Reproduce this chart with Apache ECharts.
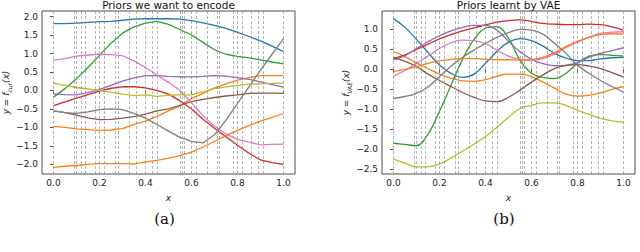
<!DOCTYPE html>
<html><head><meta charset="utf-8">
<script src="https://cdn.jsdelivr.net/npm/echarts@6/dist/echarts.min.js"></script>
<style>html,body{margin:0;padding:0;background:#fff}#c{width:640px;height:252px}</style>
</head><body><div id="c"></div>
<script>
// shared x sampling grid (both panels)
const xGrid = [0,0.05,0.1,0.15,0.2,0.25,0.3,0.35,0.4,0.45,0.5,0.55,0.6,0.65,0.7,0.75,0.8,0.85,0.9,0.95,1.0];
// inducing-point x positions (vertical dashed lines)
const inducingX = [0.0,0.09,0.10,0.115,0.145,0.18,0.20,0.22,0.27,0.285,0.33,0.36,0.40,0.43,0.45,0.545,0.555,0.575,0.60,0.62,0.665,0.71,0.72,0.78,0.80,0.82,0.86,0.89,0.91,1.0];
const xTicks = [0,0.2,0.4,0.6,0.8,1.0];
const yTicksA = [-2,-1.5,-1,-0.5,0,0.5,1,1.5,2];
const yTicksB = [-2.5,-2,-1.5,-1,-0.5,0,0.5,1];

// (a) priors we want to encode
const aBlue   = [1.81,1.81,1.82,1.84,1.86,1.87,1.90,1.93,1.94,1.94,1.94,1.93,1.89,1.83,1.76,1.68,1.57,1.46,1.34,1.20,1.05];
const aGreen  = [-0.18,0.05,0.32,0.62,0.95,1.28,1.55,1.72,1.82,1.87,1.79,1.65,1.50,1.30,1.10,0.98,0.92,0.88,0.83,0.77,0.72];
const aPink   = [0.82,0.86,0.93,0.96,0.98,0.97,0.94,0.80,0.62,0.42,0.22,0.0,-0.33,-0.68,-0.97,-1.18,-1.32,-1.40,-1.47,-1.46,-1.45];
const aPurple = [-0.09,-0.11,-0.12,-0.06,0.03,0.14,0.25,0.34,0.40,0.40,0.38,0.37,0.37,0.38,0.40,0.39,0.35,0.30,0.23,0.16,0.09];
const aOlive  = [0.20,0.14,0.08,0.04,0.0,-0.05,-0.10,-0.14,-0.12,-0.16,-0.13,-0.12,-0.12,-0.04,0.05,0.10,0.14,0.17,0.18,0.19,0.20];
const aRed    = [-0.41,-0.31,-0.21,-0.11,-0.02,0.06,0.10,0.10,0.07,0.0,-0.10,-0.28,-0.50,-0.78,-1.02,-1.25,-1.48,-1.70,-1.88,-1.95,-2.0];
const aBrown  = [-0.55,-0.60,-0.67,-0.74,-0.79,-0.78,-0.75,-0.71,-0.64,-0.55,-0.50,-0.40,-0.30,-0.24,-0.19,-0.15,-0.12,-0.08,-0.07,-0.07,-0.08];
const aGray   = [-0.55,-0.60,-0.62,-0.58,-0.52,-0.50,-0.52,-0.62,-0.75,-0.92,-1.10,-1.27,-1.38,-1.42,-1.20,-0.80,-0.35,0.10,0.55,0.98,1.40];
const aOrange1= [-0.97,-1.00,-1.04,-1.06,-1.08,-1.07,-1.03,-0.92,-0.83,-0.70,-0.55,-0.42,-0.22,-0.08,0.07,0.18,0.28,0.35,0.40,0.40,0.40];
const aOrange2= [-2.08,-2.05,-2.03,-2.0,-1.98,-1.98,-1.98,-1.99,-1.93,-1.89,-1.83,-1.76,-1.67,-1.53,-1.38,-1.22,-1.08,-0.95,-0.83,-0.73,-0.63];

// (b) priors learnt by VAE
const bBlue   = [1.27,1.05,0.75,0.42,0.11,-0.10,-0.20,-0.12,0.15,0.45,0.68,0.77,0.72,0.58,0.40,0.28,0.22,0.22,0.26,0.29,0.30];
const bRed    = [0.27,0.36,0.50,0.63,0.76,0.87,0.96,1.04,1.11,1.18,1.22,1.24,1.20,1.15,1.13,1.12,1.12,1.13,1.12,1.06,0.98];
const bPurple = [0.23,0.34,0.52,0.69,0.84,0.96,1.05,1.10,1.10,0.98,0.70,0.44,0.25,0.14,0.09,0.10,0.17,0.30,0.40,0.47,0.54];
const bGray   = [-0.73,-0.68,-0.60,-0.44,-0.18,0.08,0.30,0.48,0.65,0.80,0.92,1.00,0.98,0.88,0.65,0.40,0.10,-0.10,-0.28,-0.43,-0.57];
const bPink   = [-0.17,-0.03,0.15,0.33,0.52,0.67,0.73,0.72,0.64,0.48,0.33,0.25,0.23,0.27,0.38,0.55,0.68,0.80,0.90,0.93,0.94];
const bOrange1= [0.44,0.32,0.16,0.02,-0.12,-0.22,-0.29,-0.30,-0.26,-0.17,-0.12,-0.12,-0.18,-0.32,-0.47,-0.62,-0.67,-0.65,-0.59,-0.50,-0.43];
const bOrange2= [-0.06,0.0,0.07,0.15,0.21,0.25,0.27,0.27,0.25,0.24,0.24,0.23,0.24,0.30,0.42,0.57,0.70,0.80,0.87,0.89,0.88];
const bGreen  = [-1.85,-1.88,-1.91,-1.62,-1.05,-0.40,0.25,0.75,1.03,1.07,0.78,0.23,-0.10,-0.20,-0.23,-0.10,0.15,0.33,0.37,0.35,0.33];
const bBrown  = [0.30,0.20,0.07,-0.12,-0.28,-0.43,-0.58,-0.70,-0.79,-0.81,-0.70,-0.52,-0.32,-0.14,0.02,0.10,0.12,0.08,0.02,-0.08,-0.19];
const bOlive  = [-2.25,-2.35,-2.44,-2.44,-2.37,-2.22,-2.05,-1.87,-1.68,-1.45,-1.20,-0.98,-0.90,-0.84,-0.84,-0.90,-1.02,-1.13,-1.23,-1.29,-1.33];

const C = {blue:'#1f77b4',orange:'#ff7f0e',green:'#2ca02c',red:'#d62728',purple:'#9467bd',brown:'#8c564b',pink:'#e377c2',gray:'#7f7f7f',olive:'#bcbd22'};

function mk(vals, color, idx, smooth){
  return {type:'line', xAxisIndex:idx, yAxisIndex:idx, data: xGrid.map((x,i)=>[x, vals[i]]),
    showSymbol:false, symbol:'none', smooth: smooth, lineStyle:{color:color, width:1.3}, silent:true, z:3};
}
function vlines(idx){
  return {type:'line', xAxisIndex:idx, yAxisIndex:idx, data:[], silent:true,
    markLine:{symbol:'none', silent:true, label:{show:false},
      lineStyle:{color:'#888', width:0.8, type:[3,2], opacity:0.8},
      data: inducingX.map(v=>({xAxis:v}))}};
}
const fmt = v => v.toFixed(1).replace('-', '\u2212');
const tickFont = {fontSize:9, color:'#222', fontFamily:'DejaVu Sans'};
function xAx(idx){
  return {type:'value', gridIndex:idx, min:-0.05, max:1.05,
    name:'x', nameLocation:'middle', nameGap:19, nameTextStyle:{fontSize:9, fontStyle:'italic', color:'#222', fontFamily:'DejaVu Sans'},
    axisLine:{show:false}, splitLine:{show:false},
    axisTick:{show:true, length:3.5, customValues:xTicks, lineStyle:{color:'#222', width:0.8}},
    axisLabel:Object.assign({customValues:xTicks, formatter:fmt, margin:4}, tickFont)};
}
function yAx(idx, mn, mx, ticks, sub, gap){
  return {type:'value', gridIndex:idx, min:mn, max:mx,
    name:'{a|y = f}{s|'+sub+'}{a|(x)}', nameLocation:'middle', nameGap:gap, nameRotate:90,
    nameTextStyle:{rich:{a:{fontSize:9, fontStyle:'italic', color:'#222', fontFamily:'DejaVu Sans', lineHeight:12, verticalAlign:'middle'},
                        s:{fontSize:6, fontStyle:'italic', color:'#222', fontFamily:'DejaVu Sans', lineHeight:12, verticalAlign:'bottom'}}},
    axisLine:{show:false}, splitLine:{show:false},
    axisTick:{show:true, length:3.5, customValues:ticks, lineStyle:{color:'#222', width:0.8}},
    axisLabel:Object.assign({customValues:ticks, formatter:fmt, margin:4}, tickFont)};
}

const chart = echarts.init(document.getElementById('c'), null, {renderer:'svg', width:640, height:252});
chart.setOption({
  animation:false, backgroundColor:'#fff',
  grid:[
    {left:42, top:11, width:253, height:163, show:true, borderColor:'#222', borderWidth:0.8, backgroundColor:'transparent'},
    {left:382, top:11, width:253, height:163, show:true, borderColor:'#222', borderWidth:0.8, backgroundColor:'transparent'}
  ],
  xAxis:[xAx(0), xAx(1)],
  yAxis:[yAx(0,-2.26,2.15,yTicksA,'cur',30), yAx(1,-2.62,1.46,yTicksB,'VAE',30)],
  graphic:[
    {type:'text', x:168.5, y:4.5, style:{text:'Priors we want to encode', fontSize:10.5, fontFamily:'DejaVu Sans', fill:'#111', align:'center', verticalAlign:'middle'}},
    {type:'text', x:508.5, y:4.5, style:{text:'Priors learnt by VAE', fontSize:10.5, fontFamily:'DejaVu Sans', fill:'#111', align:'center', verticalAlign:'middle'}},
    {type:'text', x:164.5, y:219, style:{text:'(a)', fontSize:15, fontFamily:'DejaVu Serif', fill:'#111', align:'center', verticalAlign:'middle'}},
    {type:'text', x:504, y:219, style:{text:'(b)', fontSize:15, fontFamily:'DejaVu Serif', fill:'#111', align:'center', verticalAlign:'middle'}}
  ],
  series:[
    vlines(0), vlines(1),
    mk(aBlue,C.blue,0,false), mk(aOrange1,C.orange,0,false), mk(aGreen,C.green,0,false), mk(aRed,C.red,0,false),
    mk(aPurple,C.purple,0,false), mk(aBrown,C.brown,0,false), mk(aPink,C.pink,0,false), mk(aGray,C.gray,0,false),
    mk(aOlive,C.olive,0,false), mk(aOrange2,C.orange,0,false),
    mk(bBlue,C.blue,1,0.4), mk(bOrange1,C.orange,1,0.4), mk(bGreen,C.green,1,0.4), mk(bRed,C.red,1,0.4),
    mk(bPurple,C.purple,1,0.4), mk(bBrown,C.brown,1,0.4), mk(bPink,C.pink,1,0.4), mk(bGray,C.gray,1,0.4),
    mk(bOlive,C.olive,1,0.4), mk(bOrange2,C.orange,1,0.4)
  ]
});
</script></body></html>
